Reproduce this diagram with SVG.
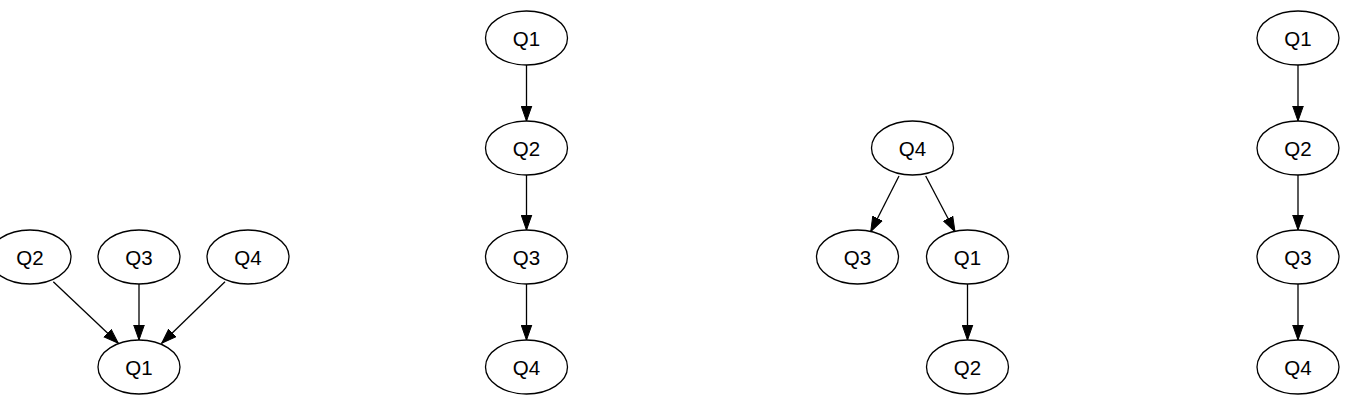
<svg xmlns="http://www.w3.org/2000/svg" width="1353" height="404" viewBox="0 0 1353 404">
<style>
.n ellipse{fill:#fff;stroke:#000;stroke-width:1.3}
.n text{font-family:"Liberation Sans",Arial,sans-serif;font-size:20.5px;fill:#000;text-anchor:middle}
.e line{stroke:#000;stroke-width:1.3;marker-end:url(#ah)}
</style>
<defs>
<marker id="ah" markerUnits="userSpaceOnUse" markerWidth="16" markerHeight="12" viewBox="0 -6 16 12" refX="15" refY="0" orient="auto">
<path d="M0,-5.3 L15,0 L0,5.3 Z" fill="#000" stroke="#000" stroke-width="1"/>
</marker>
</defs>
<rect width="1353" height="404" fill="#fff"/>
<g id="connectors" class="e">
<line x1="53.3" y1="281.7" x2="118.3" y2="343.3"/>
<line x1="139" y1="284" x2="139" y2="340"/>
<line x1="225" y1="281.7" x2="161.7" y2="343.3"/>
<line x1="526.5" y1="65" x2="526.5" y2="121"/>
<line x1="526.5" y1="175" x2="526.5" y2="230"/>
<line x1="526.5" y1="284" x2="526.5" y2="340"/>
<line x1="899" y1="176" x2="870.7" y2="231.7"/>
<line x1="925.7" y1="176" x2="955" y2="231.7"/>
<line x1="967.5" y1="284" x2="967.5" y2="340"/>
<line x1="1298" y1="65" x2="1298" y2="121"/>
<line x1="1298" y1="175" x2="1298" y2="230"/>
<line x1="1298" y1="284" x2="1298" y2="340"/>
</g>
<g id="g1_q2" class="n"><ellipse cx="30" cy="257" rx="41" ry="27"/><text x="30" y="264.5">Q2</text></g>
<g id="g1_q3" class="n"><ellipse cx="139" cy="257" rx="41" ry="27"/><text x="139" y="264.5">Q3</text></g>
<g id="g1_q4" class="n"><ellipse cx="248" cy="257" rx="41" ry="27"/><text x="248" y="264.5">Q4</text></g>
<g id="g1_q1" class="n"><ellipse cx="139" cy="367" rx="41" ry="27"/><text x="139" y="374.5">Q1</text></g>
<g id="g2_q1" class="n"><ellipse cx="526.5" cy="38" rx="41" ry="27"/><text x="526.5" y="45.5">Q1</text></g>
<g id="g2_q2" class="n"><ellipse cx="526.5" cy="148" rx="41" ry="27"/><text x="526.5" y="155.5">Q2</text></g>
<g id="g2_q3" class="n"><ellipse cx="526.5" cy="257" rx="41" ry="27"/><text x="526.5" y="264.5">Q3</text></g>
<g id="g2_q4" class="n"><ellipse cx="526.5" cy="367" rx="41" ry="27"/><text x="526.5" y="374.5">Q4</text></g>
<g id="g3_q4" class="n"><ellipse cx="912.5" cy="148" rx="41" ry="27"/><text x="912.5" y="155.5">Q4</text></g>
<g id="g3_q3" class="n"><ellipse cx="857.5" cy="257" rx="41" ry="27"/><text x="857.5" y="264.5">Q3</text></g>
<g id="g3_q1" class="n"><ellipse cx="967.5" cy="257" rx="41" ry="27"/><text x="967.5" y="264.5">Q1</text></g>
<g id="g3_q2" class="n"><ellipse cx="967.5" cy="367" rx="41" ry="27"/><text x="967.5" y="374.5">Q2</text></g>
<g id="g4_q1" class="n"><ellipse cx="1298" cy="38" rx="41" ry="27"/><text x="1298" y="45.5">Q1</text></g>
<g id="g4_q2" class="n"><ellipse cx="1298" cy="148" rx="41" ry="27"/><text x="1298" y="155.5">Q2</text></g>
<g id="g4_q3" class="n"><ellipse cx="1298" cy="257" rx="41" ry="27"/><text x="1298" y="264.5">Q3</text></g>
<g id="g4_q4" class="n"><ellipse cx="1298" cy="367" rx="41" ry="27"/><text x="1298" y="374.5">Q4</text></g>
</svg>
